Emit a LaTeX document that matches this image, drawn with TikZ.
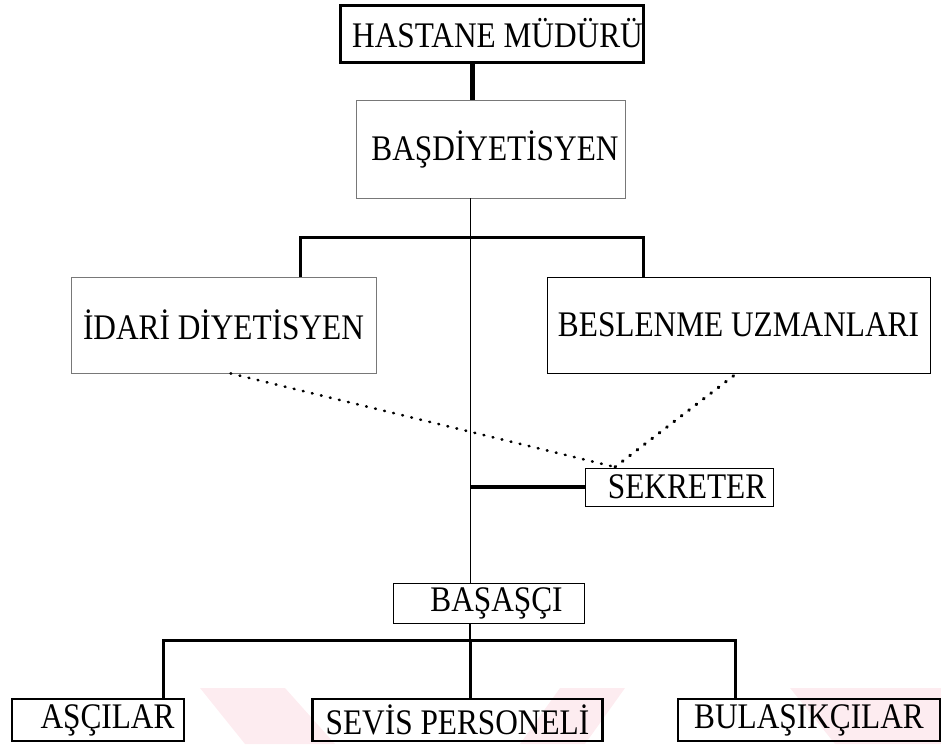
\documentclass[tikz,border=0pt]{standalone}
\usepackage{fontspec}
\setmainfont{Liberation Serif}[FakeStretch=0.87]
\usetikzlibrary{calc,backgrounds}
\definecolor{paleframe}{RGB}{120,120,120}
\definecolor{markpink}{RGB}{253,236,240}

\begin{document}
\begin{tikzpicture}[
  x=1pt, y=-1pt,
  box/.style={draw=black, line width=1pt, fill=white, inner sep=0pt,
              font=\fontsize{36}{40}\selectfont, anchor=center},
  palebox/.style={box, draw=paleframe, line width=0.8pt},
  headbox/.style={box, line width=3pt},
  staffbox/.style={box, line width=2.5pt, fill=none},
  spine/.style={draw, line width=1pt},
  trunk/.style={draw, line width=5pt},
  branch/.style={draw, line width=3pt},
  twig/.style={draw, line width=3pt},
  dots/.style={draw, line width=3.2pt, line cap=round,
               dash pattern=on 0.8pt off 8.5pt}
]
\useasboundingbox (0,0) rectangle (941,744);

% ---- watermark
\begin{scope}[on background layer]
\fill[markpink] (200,688) -- (285,688) -- (335,744) -- (245,744) -- cycle;
\fill[markpink] (560,688) -- (625,688) -- (585,744) -- (520,744) -- cycle;
\fill[markpink] (790,688) -- (941,688) -- (941,744) -- (835,744) -- cycle;
\end{scope}

% ---- nodes
\node[headbox, minimum width=303, minimum height=57] (hm) at (491.5,33.5)
  {\hspace*{12pt}HASTANE MÜDÜRÜ};
\node[palebox, minimum width=269, minimum height=98] (bd) at (490.5,149)
  {\hspace*{9pt}BAŞDİYETİSYEN};
\node[palebox, minimum width=305, minimum height=96] (id) at (223.5,325)
  {İDARİ DİYETİSYEN};
\node[box, minimum width=383, minimum height=96] (bu) at (738.5,325)
  {BESLENME UZMANLARI};
\node[box, minimum width=188, minimum height=38] (sk) at (679,487)
  {\hspace*{16pt}SEKRETER};
\node[box, minimum width=191, minimum height=40] (ba) at (488.5,603)
  {\hspace*{16pt}BAŞAŞÇI};
\node[staffbox, minimum width=172, minimum height=42] (ac) at (98,720)
  {\hspace*{19pt}AŞÇILAR};
\node[staffbox, minimum width=290, minimum height=42] (sp) at (457.5,720)
  {SEVİS PERSONELİ};
\node[staffbox, minimum width=262, minimum height=42] (bl) at (809,720)
  {BULAŞIKÇILAR};

\coordinate (cx) at (470,0);
\coordinate (tl) at (300,237);
\coordinate (tr) at (643,237);
\coordinate (meet) at (615,467);
\coordinate (bj) at (470,640);

% ---- edges
\draw[trunk] (hm.south -| 472,0) -- (bd.north -| 472,0);
\draw[spine] (bd.south -| cx) -- (ba.north -| cx);
\draw[branch] (id.north -| tl) |- (tr) -- (tr |- bu.north);
\draw[dots, line width=2.6pt] (id.south) ++(7,0) -- (meet);
\draw[dots] (meet) -- ($(bu.south)+(-2,0)$);
\draw[line width=4pt] (sk.west |- 0,487) -- (cx |- sk.west);
\draw[line width=1.5pt] (ba.south -| cx) -- (bj);
\draw[twig] (ac.north -| 163,0) |- (bj) -| (bl.north -| 735,0);
\draw[twig] (bj) -- (sp.north -| bj);
\end{tikzpicture}
\end{document}
